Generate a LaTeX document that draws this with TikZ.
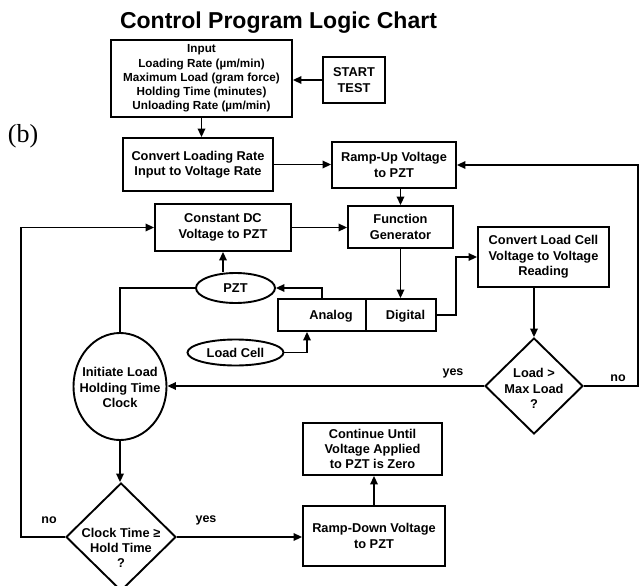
\documentclass[tikz,border=0pt]{standalone}
\usepackage{fontspec}
\setmainfont{Liberation Sans}
\newfontfamily\serifb{Liberation Serif}
\usetikzlibrary{shapes.geometric,arrows.meta,calc}
\tikzset{
  lw/.style={line width=1.9pt},
  box/.style={draw, lw, rectangle, inner sep=0pt, align=center,
    font=\bfseries\fontsize{12.8}{15.3}\selectfont},
  ell/.style={draw, lw, ellipse, inner sep=0pt, align=center,
    font=\bfseries\fontsize{12.8}{15.3}\selectfont},
  dia/.style={draw, lw, diamond, inner sep=0pt},
  txt/.style={inner sep=0pt, align=center,
    font=\bfseries\fontsize{12.8}{15.3}\selectfont},
  lbl/.style={inner sep=0pt, font=\bfseries\fontsize{12.5}{15}\selectfont},
  arr/.style={lw, -{Triangle[length=8.5pt,width=7.5pt]}},
}
\begin{document}
\begin{tikzpicture}[x=1pt,y=-1pt]
\clip (0,0) rectangle (640,586);
\fill[white] (0,0) rectangle (640,586);

\node[anchor=base, inner sep=0pt, font=\bfseries\fontsize{23}{26}\selectfont] (title) at (278.5,29) {Control Program Logic Chart};
\node[anchor=base, inner sep=0pt, font=\serifb\fontsize{26}{30}\selectfont] (blabel) at (23,142) {(b)};

\node[box, minimum width=181pt, minimum height=77pt, font=\bfseries\fontsize{11.7}{14.2}\selectfont] (inp) at (201.5,78.5)
  {Input\\Loading Rate (µm/min)\\Maximum Load (gram force)\\Holding Time (minutes)\\Unloading Rate (µm/min)};
\node[box, minimum width=62pt, minimum height=46pt] (start) at (354,80) {START\\TEST};
\node[box, minimum width=150pt, minimum height=53pt] (conv) at (198,164.5) {Convert Loading Rate\\Input to Voltage Rate};
\node[box, minimum width=124pt, minimum height=46pt] (ramp) at (394,165) {Ramp-Up Voltage\\to PZT};
\node[box, minimum width=136pt, minimum height=47pt] (dc) at (223,227.5) {Constant DC\\Voltage to PZT};
\node[box, minimum width=105pt, minimum height=42pt] (fg) at (400.5,227) {Function\\Generator};
\node[box, minimum width=131pt, minimum height=60pt] (clc) at (543.5,257) {Convert Load Cell\\Voltage to Voltage\\Reading};
\node[box, minimum width=88pt, minimum height=32pt] (analog) at (322,315) {};
\node[box, minimum width=70pt, minimum height=32pt] (digital) at (401,315) {};
\node[txt] (analogt) at (331,316) {Analog};
\node[txt] (digitalt) at (405.5,316) {Digital};
\node[ell, minimum width=79pt, minimum height=30pt] (pzt) at (235.5,288) {PZT};
\node[ell, minimum width=96pt, minimum height=26pt] (lc) at (235.5,352.5) {Load Cell};
\node[ell, minimum width=93pt, minimum height=107pt] (init) at (120,386.5) {};
\node[txt] (initt) at (120,387.5) {Initiate Load\\Holding Time\\Clock};
\node[dia, minimum width=98pt, minimum height=96pt] (d1) at (534,386) {};
\node[txt] (d1t) at (534,388.5) {Load >\\Max Load\\?};
\node[dia, minimum width=110pt, minimum height=108pt] (d2) at (121,537) {};
\node[txt] (d2t) at (121,548) {Clock Time ≥\\Hold Time\\?};
\node[box, minimum width=142pt, minimum height=60pt] (rd) at (374,536) {Ramp-Down Voltage\\to PZT};
\node[box, minimum width=139pt, minimum height=52pt] (cont) at (372.5,449) {Continue Until\\Voltage Applied\\to PZT is Zero};

\node[lbl] (yes1) at (453,373) {yes};
\node[lbl] (no1) at (618,378) {no};
\node[lbl] (no2) at (49,520) {no};
\node[lbl] (yes2) at (206,520) {yes};

\coordinate (rx) at (638,0);
\coordinate (lx) at (21,0);
\coordinate (jx) at (456,0);
\coordinate (lcx) at (307,0);

\draw[arr] (start.west) -- (start.west -| inp.east);
\draw[arr] (inp.south) -- (inp.south |- conv.north);
\draw[arr] (conv.east) -- (conv.east -| ramp.west);
\draw[arr] (fg.north |- ramp.south) -- (fg.north);
\draw[arr] (dc.east) -- (dc.east -| fg.west);
\draw[arr] (fg.south) -- (fg.south |- digital.north);
\draw[arr] (digital.east) -- (digital.east -| jx) -- (clc.west -| jx) -- (clc.west);
\draw[arr] (analog.north) -- (analog.north |- pzt.east) -- (pzt.east);
\draw[arr] (dc.south |- pzt.north) -- (dc.south);
\draw[arr] (lc.east) -- (lc.east -| lcx) -- (lcx |- analog.south);
\draw[lw] (pzt.west) -- (pzt.west -| init.north) -- (init.north);
\draw[arr] (d1.north |- clc.south) -- (d1.north);
\draw[arr] (d1.west) -- (d1.west -| init.east);
\draw[arr] (d1.east) -- (d1.east -| rx) -- (ramp.east -| rx) -- (ramp.east);
\draw[arr] (init.south) -- (init.south |- d2.north);
\draw[arr] (d2.west) -- (d2.west -| lx) -- (dc.west -| lx) -- (dc.west);
\draw[arr] (d2.east) -- (d2.east -| rd.west);
\draw[arr] (rd.north) -- (rd.north |- cont.south);
\end{tikzpicture}
\end{document}
